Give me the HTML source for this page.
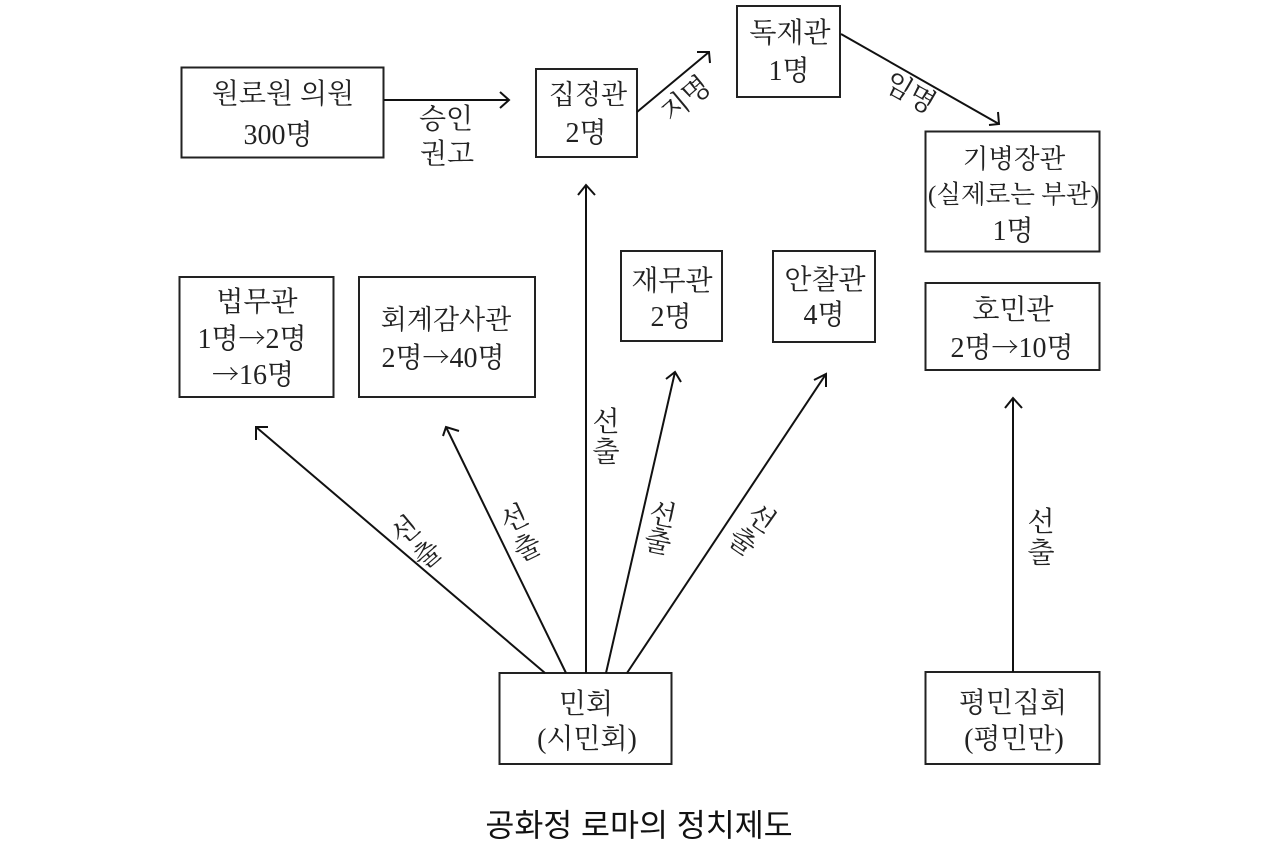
<!DOCTYPE html>
<html lang="ko"><head><meta charset="utf-8"><style>
html,body{margin:0;padding:0;background:#fff;width:1280px;height:849px;overflow:hidden}
svg{display:block}
text{font-family:"Liberation Serif","Noto Serif CJK KR","Noto Serif CJK SC",serif;font-size:28px;fill:#222;text-anchor:middle}
.t{font-family:"Liberation Sans","Noto Sans CJK KR",sans-serif;font-size:31.500px;fill:#111}
.a{font-family:"Noto Serif CJK SC",serif;font-size:27px}
.s{font-size:28px}
rect{fill:#fff;stroke:#222;stroke-width:2}
line{stroke:#111;stroke-width:2}
polyline{fill:none;stroke:#111;stroke-width:2}
</style></head><body>
<svg width="1280" height="849" viewBox="0 0 1280 849" xmlns="http://www.w3.org/2000/svg">
<rect x="181.500" y="67.500" width="202" height="90"/>
<rect x="536" y="69" width="101" height="88"/>
<rect x="737" y="6" width="103" height="91"/>
<rect x="925.500" y="131.500" width="174" height="120"/>
<rect x="179.500" y="277" width="154" height="120"/>
<rect x="359" y="277" width="176" height="120"/>
<rect x="621" y="251" width="101" height="90"/>
<rect x="773" y="251" width="102" height="91"/>
<rect x="925.500" y="283" width="174" height="87"/>
<rect x="499.500" y="673" width="172" height="91"/>
<rect x="925.500" y="672" width="174" height="92"/>

<line x1="384" y1="100" x2="508" y2="100"/><polyline points="500,92 509,100 500,108"/>
<line x1="637" y1="112" x2="709" y2="52"/><polyline points="697,52 709,52 710,63"/>
<line x1="841" y1="34" x2="999" y2="124"/><polyline points="989,125 999,124 998,112"/>
<line x1="586" y1="673" x2="586" y2="186"/><polyline points="578,195 586,185 595,195"/>
<line x1="545" y1="673" x2="256" y2="427"/><polyline points="256,440 256,427 268,427"/>
<line x1="566" y1="673" x2="446" y2="427"/><polyline points="443,436 446,427 459,431"/>
<line x1="606" y1="673" x2="675" y2="372"/><polyline points="666,379 675,372 681,382"/>
<line x1="627" y1="673" x2="826" y2="374"/><polyline points="814,380 826,374 826,387"/>
<line x1="1013" y1="672" x2="1013" y2="399"/><polyline points="1005,408 1013,398 1022,408"/>

<text x="283" y="103">원로원 의원</text><text x="278" y="144">300명</text>
<text x="588" y="104" style="font-size:27px">집정관</text><text x="586" y="142">2명</text>
<text x="790" y="42">독재관</text><text x="789" y="80">1명</text>
<text x="1014" y="168" style="font-size:26.500px">기병장관</text><text x="1013.500" y="203" style="font-size:25.500px">(실제로는 부관)</text><text x="1013" y="240">1명</text>
<text x="257" y="311">법무관</text>
<text x="252" y="348">1명<tspan class="a">→</tspan>2명</text>
<text x="253" y="384"><tspan class="a">→</tspan>16명</text>
<text x="446" y="329" style="font-size:27px">회계감사관</text>
<text x="443" y="367">2명<tspan class="a">→</tspan>40명</text>
<text x="672" y="290">재무관</text><text x="671" y="326">2명</text>
<text x="825" y="289">안찰관</text><text x="824" y="324">4명</text>
<text x="1013" y="319">호민관</text>
<text x="1012" y="357">2명<tspan class="a">→</tspan>10명</text>
<text x="586" y="713">민회</text><text x="587" y="748">(시민회)</text>
<text x="1013" y="712">평민집회</text><text x="1014" y="748">(평민만)</text>

<text x="446" y="128">승인</text><text x="447" y="163">권고</text>

<text transform="translate(675 107) rotate(-40)" y="10">지</text>
<text transform="translate(696 90) rotate(-40)" y="10">명</text>
<text transform="translate(899 86) rotate(30)" y="10">임</text>
<text transform="translate(922 99) rotate(30)" y="10">명</text>

<text x="606" y="431">선</text><text x="606" y="461">출</text>
<text class="s" transform="translate(405 530) rotate(-40)" y="10">선</text>
<text class="s" transform="translate(427 554) rotate(-40)" y="10">출</text>
<text class="s" transform="translate(514 518) rotate(-25)" y="10">선</text>
<text class="s" transform="translate(527 547) rotate(-25)" y="10">출</text>
<text class="s" transform="translate(663 514) rotate(12)" y="10">선</text>
<text class="s" transform="translate(658 541) rotate(12)" y="10">출</text>
<text class="s" transform="translate(762 518) rotate(35)" y="10">선</text>
<text class="s" transform="translate(743 541) rotate(35)" y="10">출</text>
<text x="1041" y="531">선</text><text x="1041" y="562">출</text>

<text class="t" x="639" y="836">공화정 로마의 정치제도</text>
</svg>
</body></html>
